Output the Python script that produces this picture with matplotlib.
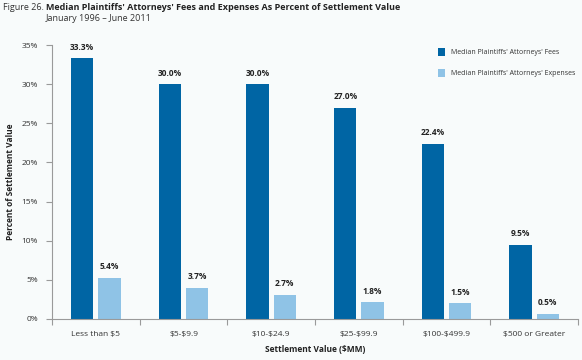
import numpy as np
from matplotlib import pyplot as plt

categories = ['Less than $5', '$5-$9.9', '$10-$24.9', '$25-$99.9', '$100-$499.9', '$500 or Greater']
fees = [33.3, 30.0, 30.0, 27.0, 22.4, 9.5]
fee_labels = ['33.3%', '30.0%', '30.0%', '27.0%', '22.4%', '9.5%']
# bar heights as drawn in the original (they do not quite match their labels)
expenses = [5.3, 4.0, 3.1, 2.2, 2.0, 0.7]
expense_labels = ['5.4%', '3.7%', '2.7%', '1.8%', '1.5%', '0.5%']
yticks = [0, 5, 10, 15, 20, 25, 30, 35]

plt.rcParams['font.family'] = ['Open Sans', 'DejaVu Sans']
plt.rcParams['text.parse_math'] = False

bg = '#f8fbfb'
fee_color = '#0065a4'
exp_color = '#8fc3e6'
axis_color = '#9a9a9a'

fig = plt.figure(figsize=(5.82, 3.6), dpi=100, facecolor=bg)
ax = fig.add_axes([0.0893, 0.1139, 0.904, 0.761], facecolor=bg)

x = np.arange(len(categories))
w = 0.255
off = 0.155
ax.bar(x - off, fees, w, color=fee_color, label="Median Plaintiffs' Attorneys' Fees")
ax.bar(x + off, expenses, w, color=exp_color, label="Median Plaintiffs' Attorneys' Expenses")

for xi, v, lab in zip(x, fees, fee_labels):
    ax.text(xi - off, v + 0.8, lab, ha='center', va='bottom', fontsize=6, fontweight='bold', color='#222222')
for xi, v, lab in zip(x, expenses, expense_labels):
    ax.text(xi + off, v + 0.8, lab, ha='center', va='bottom', fontsize=6, fontweight='bold', color='#222222')

ax.set_xlim(-0.5, 5.42)
ax.set_ylim(0, 35)
ax.set_yticks(yticks)
ax.set_yticklabels([f'{t}%' for t in yticks], fontsize=6, color='#333333')
ax.set_xticks(np.arange(-0.5, 6.0, 1.0))
ax.set_xticklabels([])
ax.set_xticks(x, minor=True)
ax.set_xticklabels(categories, minor=True, fontsize=6, color='#333333')
ax.tick_params(axis='x', which='minor', length=0, pad=9)
ax.tick_params(axis='x', which='major', length=4, direction='out', color=axis_color)
ax.tick_params(axis='y', length=4, direction='out', color=axis_color, pad=6)

for s in ['top', 'right']:
    ax.spines[s].set_visible(False)
for s in ['left', 'bottom']:
    ax.spines[s].set_color(axis_color)
    ax.spines[s].set_linewidth(0.8)

ax.set_ylabel('Percent of Settlement Value', fontsize=6, fontweight='bold', color='#222222')
ax.yaxis.set_label_coords(-0.07, 0.5)
ax.set_xlabel('Settlement Value ($MM)', fontsize=6, fontweight='bold', color='#222222', labelpad=5)

leg = ax.legend(loc='upper left', bbox_to_anchor=(0.728, 1.0), frameon=False, fontsize=5,
                handlelength=1.1, handleheight=1.5, handletextpad=0.8, labelspacing=1.8,
                borderaxespad=0.0)
for t in leg.get_texts():
    t.set_color('#333333')

fig.text(0.006, 0.992, 'Figure 26.', fontsize=6.5, color='#333333', va='top')
fig.text(0.079, 0.992, "Median Plaintiffs' Attorneys' Fees and Expenses As Percent of Settlement Value",
         fontsize=6.5, fontweight='bold', color='#222222', va='top')
fig.text(0.079, 0.96, 'January 1996 \u2013 June 2011', fontsize=6.5, color='#333333', va='top')

fig.savefig('out.png', dpi=100, facecolor=bg)
